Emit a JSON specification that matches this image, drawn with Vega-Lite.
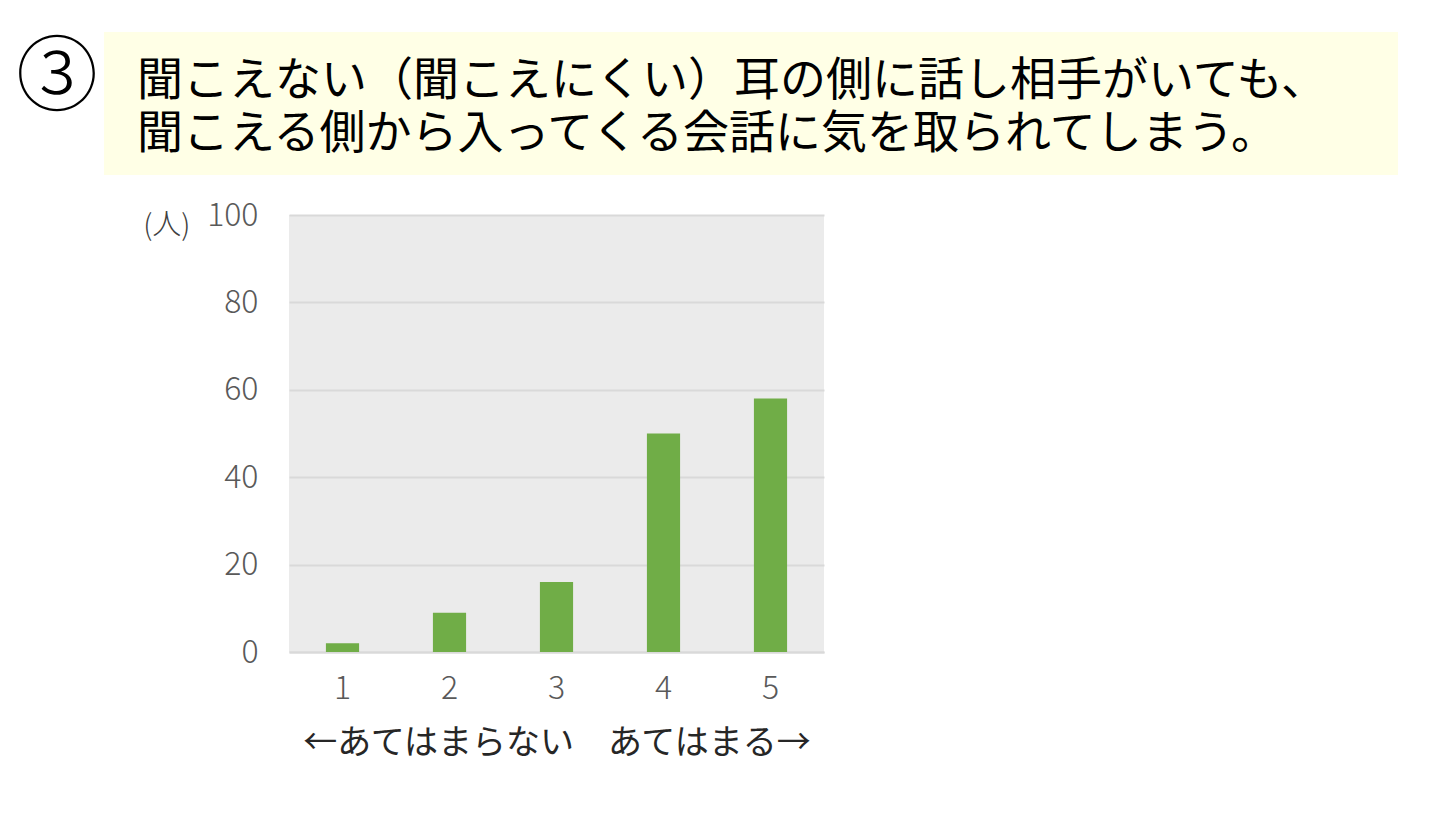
{
  "$schema": "https://vega.github.io/schema/vega-lite/v6.json",
  "padding": {"top": 32, "left": 14, "right": 10, "bottom": 10},
  "background": "white",
  "config": {
    "font": "Noto Sans CJK JP",
    "view": {"stroke": null}
  },
  "spacing": 24,
  "vconcat": [
    {
      "spacing": 4,
      "hconcat": [
        {
          "width": 86, "height": 90,
          "data": {"values": [{"label": "③"}]},
          "mark": {"type": "text", "fontSize": 82, "fontWeight": 300, "color": "#000000", "baseline": "middle", "align": "center", "dy": 2},
          "encoding": {"text": {"field": "label"}}
        },
        {
          "width": 1294, "height": 143,
          "view": {"fill": "#ffffe6"},
          "data": {"values": [
            {"line": 1, "text": "聞こえない（聞こえにくい）耳の側に話し相手がいても、"},
            {"line": 2, "text": "聞こえる側から入ってくる会話に気を取られてしまう。"}
          ]},
          "mark": {"type": "text", "fontSize": 46, "color": "#000000", "align": "left", "baseline": "middle", "dy": 4},
          "encoding": {
            "x": {"value": 33},
            "y": {"field": "line", "type": "ordinal", "axis": null, "scale": {"type": "point", "padding": 0.85}},
            "text": {"field": "text"}
          }
        }
      ]
    },
    {
      "spacing": 0,
      "hconcat": [
        {
          "width": 128, "height": 10,
          "data": {"values": [{"label": ""}]},
          "mark": {"type": "text"},
          "encoding": {"text": {"field": "label"}}
        },
        {
          "width": 535, "height": 437,
          "view": {"fill": "#ebebeb"},
          "data": {"values": [
            {"score": "1", "count": 2},
            {"score": "2", "count": 9},
            {"score": "3", "count": 16},
            {"score": "4", "count": 50},
            {"score": "5", "count": 58}
          ]},
          "mark": {"type": "bar", "color": "#70ad47"},
          "encoding": {
            "x": {
              "field": "score", "type": "ordinal",
              "scale": {"paddingInner": 0.69, "paddingOuter": 0.345},
              "title": "←あてはまらない　あてはまる→",
              "axis": {
                "labelAngle": 0, "labelFontSize": 32, "labelColor": "#595959", "labelFontWeight": 300,
                "labelPadding": 21, "ticks": false, "domainColor": "#d9d9d9", "domainWidth": 2,
                "titleFontSize": 34, "titleFontWeight": "normal", "titleColor": "#262626", "titlePadding": 22
              }
            },
            "y": {
              "field": "count", "type": "quantitative",
              "scale": {"domain": [0, 100]},
              "title": "(人)",
              "axis": {
                "values": [0, 20, 40, 60, 80, 100], "domain": false, "ticks": false,
                "gridColor": "#d9d9d9", "gridWidth": 2,
                "labelFontSize": 32, "labelColor": "#595959", "labelFontWeight": 300, "labelPadding": 31,
                "titleAngle": 0, "titleFontSize": 29, "titleFontWeight": 300, "titleColor": "#404040",
                "titleAlign": "right", "titleBaseline": "middle", "titleX": -99, "titleY": 10
              }
            }
          }
        }
      ]
    }
  ]
}
